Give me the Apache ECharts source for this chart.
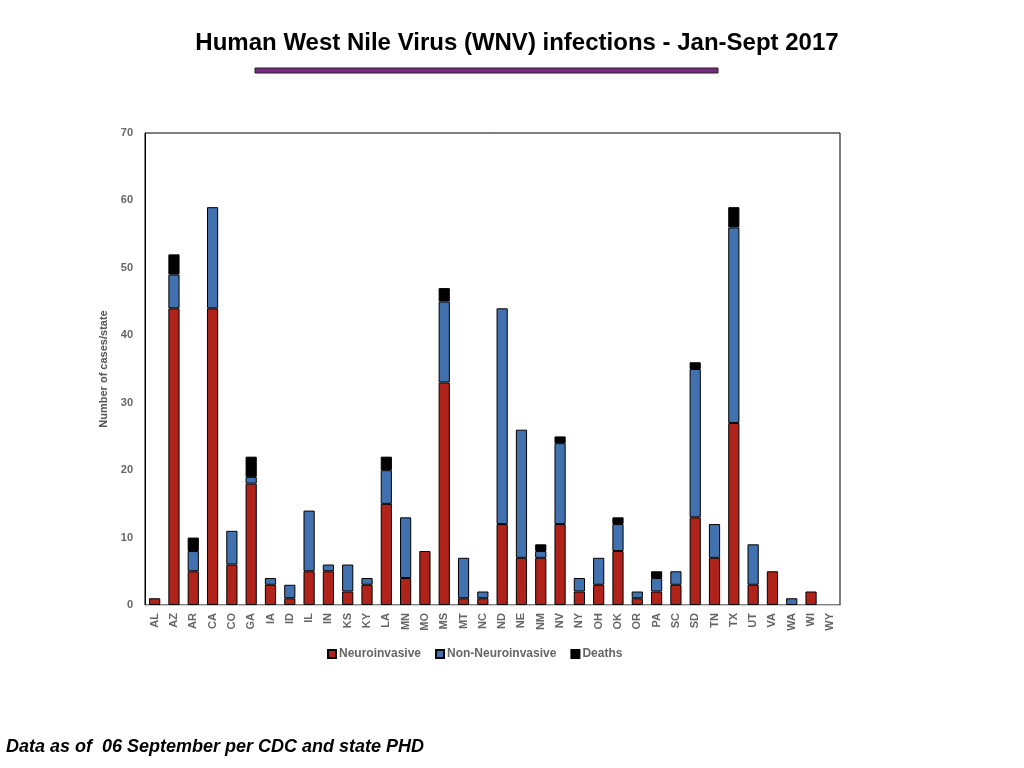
<!DOCTYPE html>
<html>
<head>
<meta charset="utf-8">
<script src="https://cdn.jsdelivr.net/npm/echarts@6/dist/echarts.min.js"></script>
<style>
  html, body { margin: 0; padding: 0; background: #fff; }
  #main { width: 1024px; height: 768px; }
</style>
</head>
<body>
<div id="main"></div>
<script>
// states
var states = ['AL', 'AZ', 'AR', 'CA', 'CO', 'GA', 'IA', 'ID', 'IL', 'IN', 'KS', 'KY', 'LA', 'MN', 'MO', 'MS',
  'MT', 'NC', 'ND', 'NE', 'NM', 'NV', 'NY', 'OH', 'OK', 'OR', 'PA', 'SC', 'SD', 'TN', 'TX', 'UT', 'VA', 'WA', 'WI', 'WY'];
// cases per state
var neuro = [1, 44, 5, 44, 6, 18, 3, 1, 5, 5, 2, 3, 15, 4, 8, 33,
  1, 1, 12, 7, 7, 12, 2, 3, 8, 1, 2, 3, 13, 7, 27, 3, 5, 0, 2, 0];
var nonNeuro = [0, 5, 3, 15, 5, 1, 1, 2, 9, 1, 4, 1, 5, 9, 0, 12,
  6, 1, 32, 19, 1, 12, 2, 4, 4, 1, 2, 2, 22, 5, 29, 6, 0, 1, 0, 0];
var deaths = [0, 3, 2, 0, 0, 3, 0, 0, 0, 0, 0, 0, 2, 0, 0, 2,
  0, 0, 0, 0, 1, 1, 0, 0, 1, 0, 1, 0, 1, 0, 3, 0, 0, 0, 0, 0];

var chart = echarts.init(document.getElementById('main'));

function bar(name, data, color) {
  return {
    name: name,
    type: 'bar',
    stack: 'total',
    barWidth: '58%',
    // zero values drawn as nothing (no flat outline)
    data: data.map(function (v) { return v === 0 ? null : v; }),
    itemStyle: { color: color, borderColor: '#000', borderWidth: 1 }
  };
}

var option = {
  animation: false,
  title: {
    text: 'Human West Nile Virus (WNV) infections - Jan-Sept 2017',
    left: 512,
    textAlign: 'center',
    top: 26,
    textStyle: { fontFamily: 'Liberation Sans', fontSize: 24, fontWeight: 'bold', color: '#000' }
  },
  legend: {
    data: ['Neuroinvasive', 'Non-Neuroinvasive', 'Deaths'],
    left: 322,
    top: 643,
    itemWidth: 8,
    itemHeight: 8,
    itemGap: 14,
    icon: 'rect',
    textStyle: { fontFamily: 'Liberation Sans', fontSize: 12, fontWeight: 'bold', color: '#666', padding: [0, 0, 0, -2] }
  },
  grid: { left: 145, right: 184, top: 133, bottom: 163 },
  xAxis: {
    type: 'category',
    data: states,
    axisLine: { lineStyle: { color: '#ccc' } },
    axisTick: { show: false },
    axisLabel: { rotate: 90, color: '#666', fontWeight: 'bold', fontSize: 11, fontFamily: 'Liberation Sans', margin: 8 }
  },
  yAxis: {
    type: 'value',
    min: 0,
    max: 70,
    interval: 10,
    name: 'Number of cases/state',
    nameLocation: 'middle',
    nameGap: 19,
    nameTextStyle: { color: '#555', fontWeight: 'bold', fontSize: 11, fontFamily: 'Liberation Sans' },
    axisLine: { show: true, lineStyle: { color: '#000' } },
    axisTick: { show: false },
    splitLine: { show: false },
    axisLabel: { color: '#666', fontWeight: 'bold', fontSize: 11, fontFamily: 'Liberation Sans', margin: 12 }
  },
  graphic: [
    {
      type: 'rect',
      shape: { x: 145, y: 133, width: 695, height: 472 },
      style: { fill: 'none', stroke: '#000', lineWidth: 1 },
      silent: true
    },
    {
      type: 'rect',
      shape: { x: 255, y: 68, width: 463, height: 5 },
      style: { fill: '#7a2a83', stroke: '#222', lineWidth: 1 }
    },
    {
      type: 'text',
      left: 6,
      top: 738,
      style: {
        text: 'Data as of  06 September per CDC and state PHD',
        font: 'italic bold 18px "Liberation Sans"',
        fill: '#000'
      }
    }
  ],
  series: [
    bar('Neuroinvasive', neuro, '#B0231A'),
    bar('Non-Neuroinvasive', nonNeuro, '#4172AF'),
    bar('Deaths', deaths, '#000')
  ]
};

chart.setOption(option);
</script>
</body>
</html>
